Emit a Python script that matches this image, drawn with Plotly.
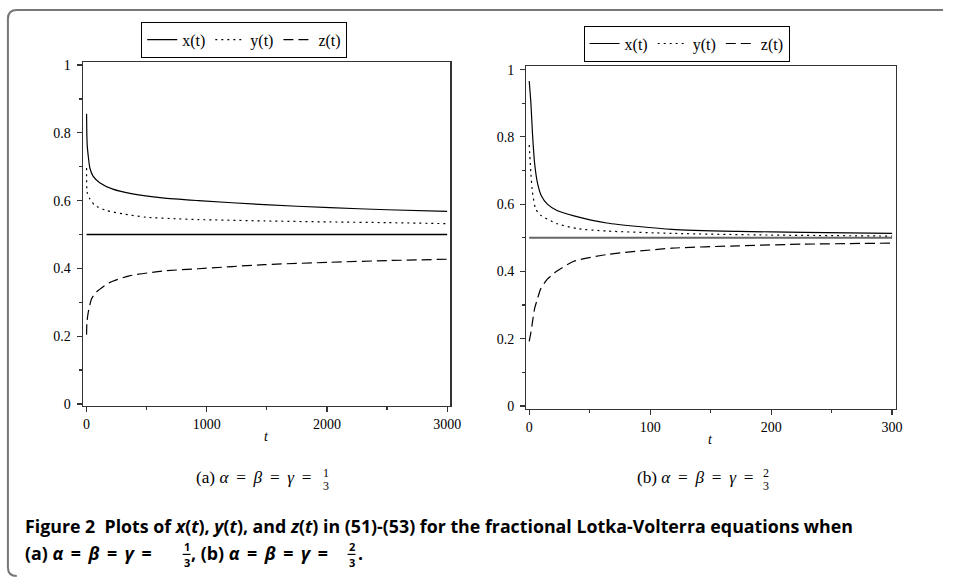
import plotly.graph_objects as go

# ---------------- data ----------------
# panel (a): alpha = beta = gamma = 1/3
t_xa = [0, 2, 6, 13, 27, 54, 109, 219, 383, 630, 931, 1479, 2027, 2500, 3000]
x_a = [0.856, 0.80, 0.76, 0.735, 0.697, 0.672, 0.653, 0.634, 0.620, 0.608, 0.600, 0.588, 0.579, 0.573, 0.568]
t_ya = [0, 5, 27, 68, 164, 301, 493, 767, 931, 1479, 2027, 2500, 3000]
y_a = [0.696, 0.624, 0.605, 0.586, 0.571, 0.561, 0.551, 0.546, 0.544, 0.540, 0.537, 0.535, 0.532]
t_za = [0, 3, 13, 41, 82, 191, 356, 630, 931, 1479, 2027, 2500, 3000]
z_a = [0.204, 0.24, 0.268, 0.31, 0.33, 0.358, 0.378, 0.392, 0.399, 0.411, 0.418, 0.423, 0.427]
t_eq_a = [0, 3000]
eq_a = [0.5, 0.5]

# panel (b): alpha = beta = gamma = 2/3
t_xb = [0, 1.4, 2.7, 4.5, 7, 10, 15, 23, 37, 64, 118, 173, 227, 300]
x_b = [0.966, 0.90, 0.81, 0.72, 0.66, 0.625, 0.60, 0.581, 0.565, 0.544, 0.525, 0.519, 0.516, 0.513]
t_yb = [0, 1.4, 2.7, 5.4, 9.5, 23, 40, 64, 118, 200, 300]
y_b = [0.776, 0.69, 0.635, 0.585, 0.567, 0.542, 0.527, 0.52, 0.513, 0.508, 0.505]
t_zb = [0, 1.5, 2.7, 4.5, 6.8, 9.5, 15, 23, 37, 64, 118, 173, 227, 300]
z_b = [0.192, 0.22, 0.25, 0.29, 0.318, 0.348, 0.377, 0.401, 0.43, 0.45, 0.469, 0.476, 0.481, 0.484]
t_eq_b = [0, 300]
eq_b = [0.5, 0.5]

series_names = ["x(t)", "y(t)", "z(t)"]
xticks_a = [0, 1000, 2000, 3000]
xticks_b = [0, 100, 200, 300]
yticks = [0, 0.2, 0.4, 0.6, 0.8, 1]
ytick_text = ["0", "0.2", "0.4", "0.6", "0.8", "1"]

# ---------------- figure ----------------
W, H = 954, 583
SERIF = "Liberation Serif, Times New Roman, serif"
SANS = "Open Sans, Noto Sans, sans-serif"
NB = "&nbsp;"
TH = "\u2009"


def px(x):
    return x / W


def py(y):
    return 1 - y / H


fig = go.Figure()

dash_styles = ["solid", "2px,4px", "10px,5px"]

for (tx, vx, ty, vy, tz, vz), xa, ya, lg in [
    ((t_xa, x_a, t_ya, y_a, t_za, z_a), "x", "y", "legend"),
    ((t_xb, x_b, t_yb, y_b, t_zb, z_b), "x2", "y2", "legend2"),
]:
    for name, tt, vv, ds in zip(series_names, [tx, ty, tz], [vx, vy, vz], dash_styles):
        fig.add_trace(go.Scatter(
            x=tt, y=vv, mode="lines", name=name, xaxis=xa, yaxis=ya, legend=lg,
            line=dict(color="black", width=1.2, dash=ds, shape="spline", smoothing=0.6),
            hoverinfo="skip"))

fig.add_trace(go.Scatter(x=t_eq_a, y=eq_a, mode="lines", xaxis="x", yaxis="y",
                         showlegend=False, line=dict(color="black", width=1.3), hoverinfo="skip"))
fig.add_trace(go.Scatter(x=t_eq_b, y=eq_b, mode="lines", xaxis="x2", yaxis="y2",
                         showlegend=False, line=dict(color="#666666", width=2), hoverinfo="skip"))

axis_common = dict(showgrid=False, zeroline=False, showline=True, mirror=True,
                   linecolor="#333333", linewidth=1.3, ticks="outside", ticklen=5,
                   tickcolor="#333333", tickwidth=1.2,
                   tickfont=dict(family=SERIF, size=14, color="black"))

leg_common = dict(xanchor="left", yanchor="top", orientation="h",
                  bordercolor="black", borderwidth=1, bgcolor="white",
                  font=dict(family=SERIF, size=16, color="black"),
                  itemwidth=30, tracegroupgap=0, traceorder="normal")

# initial size leaves room for the default page margins; the post script
# removes the margins and restores the full 954x583 size
fig.update_layout(
    width=W - 16, height=H - 16, margin=dict(l=0, r=0, t=0, b=0),
    paper_bgcolor="white", plot_bgcolor="white", showlegend=True,
    xaxis=dict(domain=[px(83), px(455)], range=[-30, 3026], tickvals=xticks_a,
               minor=dict(tickvals=[500, 1500, 2500], ticklen=3, ticks="outside", tickcolor="#333333"),
               anchor="y", **axis_common),
    yaxis=dict(domain=[py(409), py(59)], range=[-0.006, 1.009], tickvals=yticks, ticktext=ytick_text,
               minor=dict(tickvals=[0.1, 0.3, 0.5, 0.7, 0.9], ticklen=3, ticks="outside", tickcolor="#333333"),
               anchor="x", ticklabelstandoff=3, **axis_common),
    xaxis2=dict(domain=[px(532), px(906)], range=[-2.4, 302.9], tickvals=xticks_b,
                minor=dict(tickvals=[50, 150, 250], ticklen=3, ticks="outside", tickcolor="#333333"),
                anchor="y2", **axis_common),
    yaxis2=dict(domain=[py(412), py(63)], range=[-0.009, 1.011], tickvals=yticks, ticktext=ytick_text,
                minor=dict(tickvals=[0.1, 0.3, 0.5, 0.7, 0.9], ticklen=3, ticks="outside", tickcolor="#333333"),
                anchor="x2", ticklabelstandoff=3, **axis_common),
    legend=dict(x=px(142), y=py(18), **leg_common),
    legend2=dict(x=px(590), y=py(22), **leg_common),
)

ann = []
# axis titles
ann.append(dict(text="<i>t</i>", x=px(269), y=py(440), xref="paper", yref="paper",
                xanchor="center", yanchor="middle",
                showarrow=False, font=dict(family=SERIF, size=14, color="black")))
ann.append(dict(text="<i>t</i>", x=px(719), y=py(443), xref="paper", yref="paper",
                xanchor="center", yanchor="middle",
                showarrow=False, font=dict(family=SERIF, size=14, color="black")))

# subtitles
sub_font = dict(family=SERIF, size=17.2, color="black")
frac_font = dict(family=SERIF, size=12, color="black")
eq = f"{NB}{TH}={NB}{TH}"
ann.append(dict(text=f"(a) <i>α</i>{eq}<i>β</i>{eq}<i>γ</i>{NB}{TH}=", x=px(195), y=py(482),
                xref="paper", yref="paper", xanchor="left", yanchor="middle", showarrow=False, font=sub_font))
ann.append(dict(text="1", x=px(329), y=py(477), xref="paper", yref="paper",
                xanchor="center", yanchor="middle", showarrow=False, font=frac_font))
ann.append(dict(text="3", x=px(329), y=py(490), xref="paper", yref="paper",
                xanchor="center", yanchor="middle", showarrow=False, font=frac_font))
ann.append(dict(text=f"(b) <i>α</i>{eq}<i>β</i>{eq}<i>γ</i>{NB}{TH}=", x=px(642), y=py(482),
                xref="paper", yref="paper", xanchor="left", yanchor="middle", showarrow=False, font=sub_font))
ann.append(dict(text="2", x=px(775), y=py(477), xref="paper", yref="paper",
                xanchor="center", yanchor="middle", showarrow=False, font=frac_font))
ann.append(dict(text="3", x=px(775), y=py(490), xref="paper", yref="paper",
                xanchor="center", yanchor="middle", showarrow=False, font=frac_font))

# caption
cap_font = dict(family=SANS, size=17.8, color="black")
capfrac_font = dict(family=SANS, size=11, color="black")
ceq = f"{NB}{TH}={NB}{TH}"
ann.append(dict(text="<b>Figure 2&nbsp;&nbsp;Plots of <i>x</i>(<i>t</i>), <i>y</i>(<i>t</i>), and <i>z</i>(<i>t</i>) in (51)-(53) for the fractional Lotka-Volterra equations when</b>",
                x=px(22), y=py(531), xref="paper", yref="paper", xanchor="left", yanchor="middle",
                showarrow=False, font=cap_font))
ann.append(dict(text=f"<b>(a) <i>α</i>{ceq}<i>β</i>{ceq}<i>γ</i>{NB}{TH}=</b>",
                x=px(22), y=py(559), xref="paper", yref="paper", xanchor="left", yanchor="middle",
                showarrow=False, font=cap_font))
ann.append(dict(text="<b>1</b>", x=px(188), y=py(552), xref="paper", yref="paper",
                xanchor="center", yanchor="middle", showarrow=False, font=capfrac_font))
ann.append(dict(text="<b>3</b>", x=px(188), y=py(568), xref="paper", yref="paper",
                xanchor="center", yanchor="middle", showarrow=False, font=capfrac_font))
ann.append(dict(text=f"<b>, (b) <i>α</i>{ceq}<i>β</i>{ceq}<i>γ</i>{NB}{TH}=</b>",
                x=px(190), y=py(559), xref="paper", yref="paper", xanchor="left", yanchor="middle",
                showarrow=False, font=cap_font))
ann.append(dict(text="<b>2</b>", x=px(355), y=py(552), xref="paper", yref="paper",
                xanchor="center", yanchor="middle", showarrow=False, font=capfrac_font))
ann.append(dict(text="<b>3</b>", x=px(355), y=py(568), xref="paper", yref="paper",
                xanchor="center", yanchor="middle", showarrow=False, font=capfrac_font))
ann.append(dict(text="<b>.</b>", x=px(360), y=py(559), xref="paper", yref="paper",
                xanchor="left", yanchor="middle", showarrow=False, font=cap_font))
fig.update_layout(annotations=ann)

shapes = []
# fraction bars in caption
for cx in (188, 355):
    shapes.append(dict(type="line", xref="paper", yref="paper", x0=px(cx - 4), x1=px(cx + 4),
                       y0=py(560), y1=py(560), line=dict(color="black", width=1.2)))
# outer rounded frame
x0, y0, r = 7, 6, 9
path = (f"M {px(954)},{py(y0)} L {px(x0 + r)},{py(y0)} "
        f"Q {px(x0)},{py(y0)} {px(x0)},{py(y0 + r)} "
        f"L {px(x0)},{py(573)} Q {px(x0)},{py(582)} {px(x0 + r)},{py(582)}")
shapes.append(dict(type="path", xref="paper", yref="paper", path=path,
                   line=dict(color="#777777", width=2)))
fig.update_layout(shapes=shapes)

post = ("var gd=document.getElementById('{plot_id}');"
        "document.body.style.margin='0px';document.body.style.overflow='hidden';"
        "document.documentElement.style.overflow='hidden';"
        "Plotly.relayout(gd, {width: %d, height: %d});" % (W, H))
fig.write_html("out.html", config={"displayModeBar": False, "staticPlot": True}, post_script=post)
